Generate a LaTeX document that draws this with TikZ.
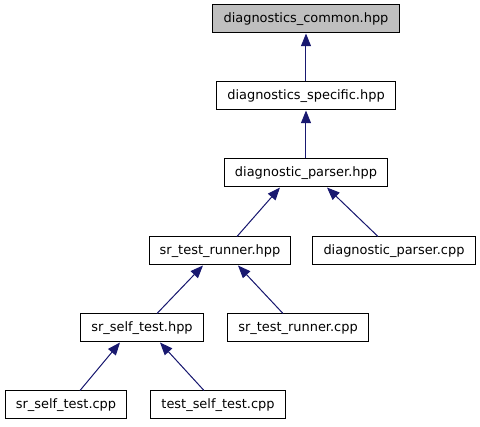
\documentclass[tikz,border=0pt]{standalone}
\usepackage{fontspec}
\setmainfont{DejaVu Sans}
\usepackage{xcolor}
\usepackage{tikz}
\usetikzlibrary{arrows.meta,calc}
\definecolor{edgeblue}{RGB}{25,25,112}
\definecolor{rootgray}{RGB}{191,191,191}
\tikzset{
    file/.style={rectangle, draw, line width=0.75pt, minimum height=21pt, inner xsep=8pt, align=center, font=\fontsize{9.7}{11}\selectfont, fill=white},
    rootfile/.style={file, fill=rootgray},
    dep/.style={-{Triangle[length=9.5pt, width=7.5pt]}, line width=0.75pt, draw=edgeblue, fill=edgeblue},
}
\begin{document}
\begin{tikzpicture}[x=0.75pt, y=-0.75pt]
    \useasboundingbox (0,0) rectangle (480,427);
    \node[rootfile] (common) at (306,19) {diagnostics\_common.hpp};
    \node[file] (specific) at (306,96) {diagnostics\_specific.hpp};
    \node[file] (parser) at (306,173) {diagnostic\_parser.hpp};
    \node[file] (runnerhpp) at (220,251) {sr\_test\_runner.hpp};
    \node[file] (parsercpp) at (394,251) {diagnostic\_parser.cpp};
    \node[file] (selfhpp) at (142,328) {sr\_self\_test.hpp};
    \node[file] (runnercpp) at (298,328) {sr\_test\_runner.cpp};
    \node[file] (selfcpp) at (66,405) {sr\_self\_test.cpp};
    \node[file] (testcpp) at (218,405) {test\_self\_test.cpp};

    \draw[dep] (specific) -- (common);
    \draw[dep] (parser) -- (specific);
    \draw[dep] ($(runnerhpp.north)+(17,0)$) -- ($(parser.south)+(-26,0)$);
    \draw[dep] ($(parsercpp.north)+(-16,0)$) -- ($(parser.south)+(21,0)$);
    \draw[dep] ($(selfhpp.north)+(15,0)$) -- ($(runnerhpp.south)+(-17,0)$);
    \draw[dep] ($(runnercpp.north)+(-15,0)$) -- ($(runnerhpp.south)+(18,0)$);
    \draw[dep] ($(selfcpp.north)+(14,0)$) -- ($(selfhpp.south)+(-22,0)$);
    \draw[dep] ($(testcpp.north)+(-14,0)$) -- ($(selfhpp.south)+(18,0)$);
\end{tikzpicture}
\end{document}
